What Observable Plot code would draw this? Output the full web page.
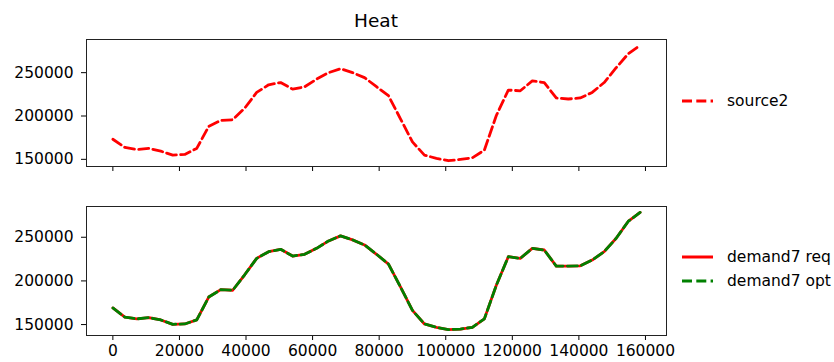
<!DOCTYPE html>
<html>
<head>
<meta charset="utf-8">
<script src="https://cdn.jsdelivr.net/npm/d3@7"></script>
<script src="https://cdn.jsdelivr.net/npm/@observablehq/plot@0.6"></script>
<style>
  html, body { margin: 0; padding: 0; background: #fff; }
  #wrap { position: relative; width: 834px; height: 362px; overflow: hidden; font-family: "DejaVu Sans", sans-serif; color: #000; }
  #wrap > div { position: absolute; }
  .leg { font-size: 15.5px; white-space: nowrap; display: flex; align-items: center; z-index: 2; }
  .leg svg { margin-right: 13px; }
</style>
</head>
<body>
<div id="wrap">
  <div id="top" style="left:0;top:0;"></div>
  <div id="bottom" style="left:0;top:180px;"></div>
  <div id="title" style="left:0;width:752px;top:10px;text-align:center;font-size:18.5px;line-height:22px;z-index:2;">Heat</div>
  <div class="leg" style="left:681px;top:92px;"><svg width="33" height="6"><line x1="1" y1="3" x2="32" y2="3" stroke="red" stroke-width="3" stroke-dasharray="10,4.3"/></svg>source2</div>
  <div class="leg" style="left:681px;top:248px;"><svg width="33" height="6"><line x1="1" y1="3" x2="32" y2="3" stroke="red" stroke-width="3"/></svg>demand7 req</div>
  <div class="leg" style="left:681px;top:272px;"><svg width="33" height="6"><line x1="1" y1="3" x2="32" y2="3" stroke="green" stroke-width="3" stroke-dasharray="10,4.3"/></svg>demand7 opt</div>
</div>
<script>
const timeSec = Array.from({length: 45}, (_, i) => i * 3600);
const source2 = [173200,163700,161400,162600,159500,154900,155700,162600,188000,194900,
  195700,209000,227200,236000,238600,231000,233700,242500,250000,254600,
  250000,244300,233800,223400,196800,170100,154900,151100,148400,150000,
  151800,160600,200600,229900,229100,240500,238600,220800,219600,220800,
  227200,238600,255700,271700,281600];
const demand7Req = [169000,158500,156500,158000,155300,150300,150700,155300,181500,190000,
  189300,207000,225800,233500,236200,228500,230400,237300,245800,251600,
  247000,241200,230500,219300,193100,166200,150700,146900,144200,144900,
  146900,156500,195000,227700,225800,237300,235400,217000,217000,217300,
  223900,233500,248800,268100,278500];
const demand7Opt = demand7Req.slice();
const xTicks = [0,20000,40000,60000,80000,100000,120000,140000,160000];
const yTicks = [150000,200000,250000];

function pad(vals) {
  const [a, b] = d3.extent(vals); const m = (b - a) * 0.05; return [a - m, b + m];
}
const xDomain = pad(timeSec);
const fmt = d => String(d);
const style = {fontFamily: "DejaVu Sans", fontSize: "15.5px", color: "#000", background: "white"};

const topData = timeSec.map((t, i) => ({t, v: source2[i]}));
const botReq = timeSec.map((t, i) => ({t, v: demand7Req[i]}));
const botOpt = timeSec.map((t, i) => ({t, v: demand7Opt[i]}));

const topPlot = Plot.plot({
  width: 834, height: 180,
  marginLeft: 86, marginRight: 168, marginTop: 39, marginBottom: 14,
  style,
  x: {domain: xDomain, ticks: xTicks, tickFormat: () => "", tickSize: 5, label: null},
  y: {domain: pad(source2), ticks: yTicks, tickFormat: fmt, tickSize: 5, tickPadding: 8, label: null},
  marks: [
    Plot.line(topData, {x: "t", y: "v", stroke: "red", strokeWidth: 2.8, strokeDasharray: "10,4.3", strokeLinejoin: "round"}),
    Plot.frame({stroke: "#222", strokeWidth: 1})
  ]
});
document.getElementById("top").appendChild(topPlot);

const botPlot = Plot.plot({
  width: 834, height: 182,
  marginLeft: 86, marginRight: 168, marginTop: 26, marginBottom: 27,
  style,
  x: {domain: xDomain, ticks: xTicks, tickFormat: fmt, tickSize: 5, tickPadding: 4, label: null},
  y: {domain: pad(demand7Req.concat(demand7Opt)), ticks: yTicks, tickFormat: fmt, tickSize: 5, tickPadding: 8, label: null},
  marks: [
    Plot.line(botReq, {x: "t", y: "v", stroke: "red", strokeWidth: 2.8, strokeLinejoin: "round"}),
    Plot.line(botOpt, {x: "t", y: "v", stroke: "green", strokeWidth: 2.8, strokeDasharray: "10,4.3", strokeLinejoin: "round"}),
    Plot.frame({stroke: "#222", strokeWidth: 1})
  ]
});
document.getElementById("bottom").appendChild(botPlot);
</script>
</body>
</html>
